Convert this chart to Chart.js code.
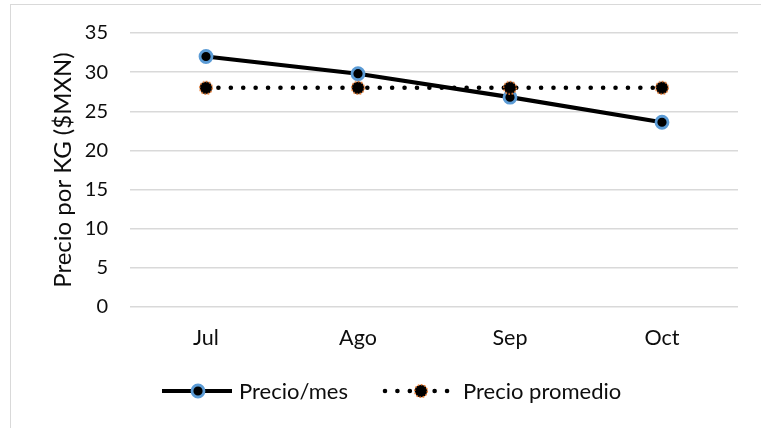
<!DOCTYPE html>
<html>
<head>
<meta charset="utf-8">
<script src="https://cdn.jsdelivr.net/npm/chart.js@4/dist/chart.umd.min.js"></script>
<style>
  html, body { margin: 0; padding: 0; background: #fff; overflow: hidden; width: 761px; height: 428px; }
  #frame { position: absolute; left: 10px; top: 4px; width: 800px; height: 500px; border: 1px solid #d9d9d9; box-sizing: border-box; }
  #box { position: absolute; left: 0; top: 0; width: 750px; height: 423px; }
</style>
</head>
<body>
<div id="frame"><div id="box"><canvas id="grafica"></canvas></div></div>
<script>
// Meses y precios por kilogramo
const meses = ['Jul', 'Ago', 'Sep', 'Oct'];
const precioMes = [32, 29.8, 26.8, 23.6];
const precioPromedio = [28, 28, 28, 28];
const ejeY = { min: 0, max: 35, paso: 5 };
const nombres = ['Precio/mes', 'Precio promedio'];

const FUENTE = 'Lato, "Liberation Sans", sans-serif';
const TEXTO = '#0d0d0d';
const AZUL = '#5b9bd5';
const NARANJA = '#ed7d31';

// Marcador negro con contorno punteado naranja
function marcadorPromedio() {
  const c = document.createElement('canvas');
  c.width = 16; c.height = 16;
  const g = c.getContext('2d');
  g.beginPath();
  g.arc(8, 8, 6.3, 0, Math.PI * 2);
  g.fillStyle = '#000';
  g.fill();
  g.setLineDash([1.7, 1.5]);
  g.lineWidth = 1.5;
  g.strokeStyle = NARANJA;
  g.stroke();
  return c;
}
const puntoPromedio = marcadorPromedio();

// Leyenda inferior con muestra de línea y marcador
const leyenda = {
  id: 'leyendaInferior',
  afterDraw(chart) {
    const ctx = chart.ctx;
    const y = 386;
    let x = 151;
    ctx.save();
    ctx.font = '22px ' + FUENTE;
    ctx.textBaseline = 'middle';
    ctx.fillStyle = TEXTO;

    // Precio/mes
    ctx.beginPath();
    ctx.moveTo(x, y); ctx.lineTo(x + 70, y);
    ctx.lineWidth = 4.2; ctx.strokeStyle = '#000'; ctx.lineCap = 'butt';
    ctx.stroke();
    ctx.beginPath();
    ctx.arc(x + 36, y, 6, 0, Math.PI * 2);
    ctx.fillStyle = '#000'; ctx.fill();
    ctx.lineWidth = 2.8; ctx.strokeStyle = AZUL; ctx.stroke();
    ctx.fillStyle = TEXTO;
    ctx.fillText(nombres[0], x + 77, y + 1);
    x = x + 77 + ctx.measureText(nombres[0]).width + 37;

    // Precio promedio
    ctx.beginPath();
    ctx.moveTo(x, y); ctx.lineTo(x + 68, y);
    ctx.setLineDash([0.01, 12.4]);
    ctx.lineCap = 'round'; ctx.lineWidth = 4.6; ctx.strokeStyle = '#000';
    ctx.stroke();
    ctx.setLineDash([]);
    ctx.drawImage(puntoPromedio, x + 36 - 8, y - 8);
    ctx.fillStyle = TEXTO;
    ctx.fillText(nombres[1], x + 78, y + 1);
    ctx.restore();
  }
};

new Chart(document.getElementById('grafica'), {
  type: 'line',
  data: {
    labels: meses,
    datasets: [
      {
        label: nombres[0],
        data: precioMes,
        order: 1,
        borderColor: '#000',
        borderWidth: 4.2,
        backgroundColor: '#000',
        pointRadius: 6,
        pointHoverRadius: 6,
        pointBackgroundColor: '#000',
        pointBorderColor: AZUL,
        pointBorderWidth: 2.8,
        tension: 0
      },
      {
        label: nombres[1],
        data: precioPromedio,
        order: 0,
        borderColor: '#000',
        borderWidth: 4.6,
        borderDash: [0.01, 12.4],
        borderCapStyle: 'round',
        pointStyle: puntoPromedio,
        pointRadius: 7,
        tension: 0
      }
    ]
  },
  options: {
    responsive: true,
    maintainAspectRatio: false,
    animation: false,
    events: [],
    layout: { padding: { left: 0, right: 23, top: 28, bottom: 61 } },
    plugins: {
      legend: { display: false },
      tooltip: { enabled: false }
    },
    scales: {
      x: {
        offset: true,
        grid: { display: false, drawTicks: false },
        border: { display: false },
        ticks: { color: TEXTO, font: { family: FUENTE, size: 21.5 }, padding: 18 },
        afterFit(s) { s.height = 60; }
      },
      y: {
        min: ejeY.min,
        max: ejeY.max,
        ticks: { stepSize: ejeY.paso, color: TEXTO, font: { family: FUENTE, size: 20 }, padding: 0 },
        grid: { color: '#d9d9d9', lineWidth: 1.5, drawTicks: true, tickLength: 22, tickColor: 'rgba(0,0,0,0)' },
        border: { display: false },
        title: {
          display: true,
          text: 'Precio por KG ($MXN)',
          color: TEXTO,
          font: { family: FUENTE, size: 24, weight: 'normal' },
          padding: { top: 38, bottom: 0 }
        },
        afterFit(s) { s.width = 119; }
      }
    }
  },
  plugins: [leyenda]
});
</script>
</body>
</html>
